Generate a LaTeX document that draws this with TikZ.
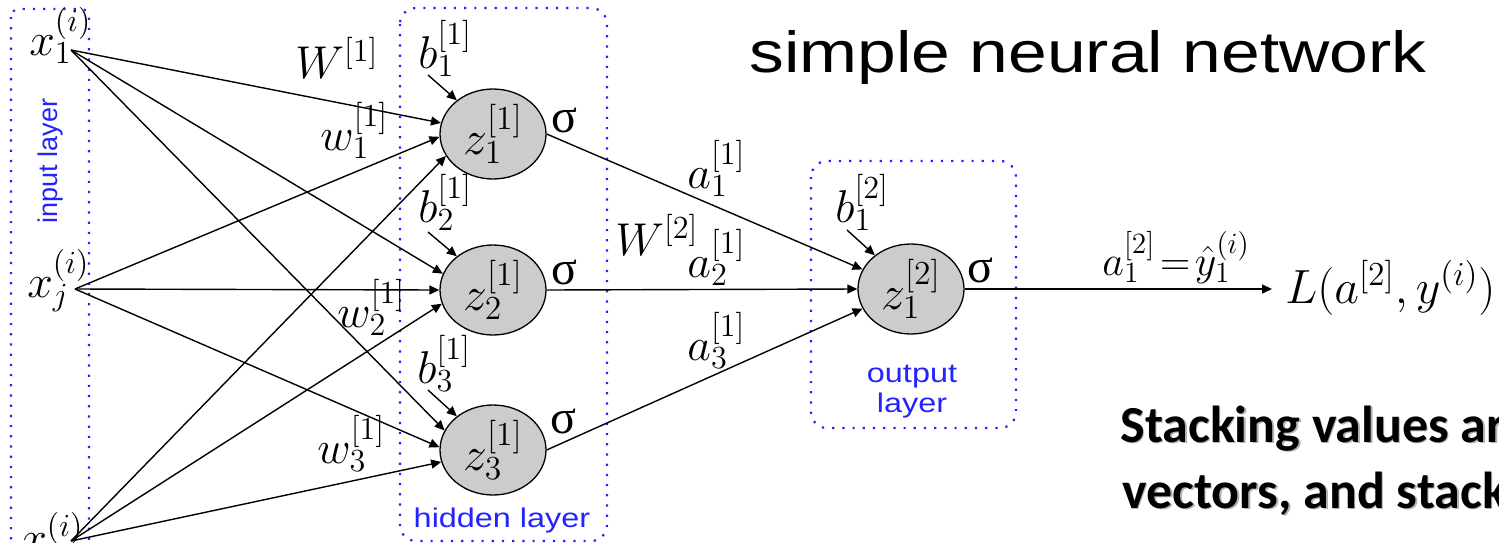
\RequirePackage{fix-cm}
\documentclass[tikz,border=0pt]{standalone}
\usepackage{fontspec}
\usepackage{graphicx}
\usetikzlibrary{shapes.geometric,arrows.meta}

\newfontfamily\arialfont{Liberation Sans}
\newfontfamily\capfont{Carlito}
\newfontfamily\sigfont{Liberation Serif}
\newcommand{\widen}[1]{\scalebox{1.2}[1]{#1}}

\definecolor{layerblue}{RGB}{35,35,255}

\tikzset{
  neuron/.style={ellipse, draw=black, line width=0.65pt, fill=black!20,
    minimum width=53pt, minimum height=45pt, inner sep=0pt,
    font=\fontsize{24}{28}\selectfont},
  layerbox/.style={draw=layerblue, line width=1.1pt,
    dash pattern=on 1.1pt off 4pt, rounded corners=8pt},
  layername/.style={text=layerblue, align=center, inner sep=0pt,
    font=\arialfont\fontsize{13.5}{15}\selectfont},
  lbl/.style={inner sep=0pt, font=\fontsize{23}{27}\selectfont},
  act/.style={inner sep=0pt, font=\sigfont\fontsize{24}{28}\selectfont},
  conn/.style={line width=0.7pt, -{Triangle[length=5pt,width=4.5pt]}},
  captxt/.style={anchor=base west, inner sep=0pt,
    font=\capfont\bfseries\fontsize{26}{31}\selectfont}
}

\begin{document}
\begin{tikzpicture}[x=0.5pt, y=-0.5pt]
\useasboundingbox (0,0) rectangle (1499,542);
\clip (0,0) rectangle (1499,542);

% layer frames
\draw[layerbox, rounded corners=4pt] (11,9) rectangle (89,600);
\draw[layerbox] (400,8) rectangle (607,541);
\draw[layerbox] (811,161) rectangle (1016,428);
\node[layername, rotate=90] (inname) at (51,161) {input layer};
\node[layername] (hidname) at (502,521) {\widen{hidden layer}};
\node[layername] (outname) at (912,392) {\widen{output}\\\widen{layer}};

% title
\node[anchor=base] (title) at (1088,72)
  {\arialfont\fontsize{29}{34}\selectfont\widen{simple neural network}};

% neurons
\node[neuron] (z1) at (493,134) {$z_1^{[1]}$};
\node[neuron] (z2) at (493,290) {$z_2^{[1]}$};
\node[neuron] (z3) at (493,450) {$z_3^{[1]}$};
\node[neuron] (o1) at (911,289) {$z_1^{[2]}$};

\node[act] (s1) at (564,120) {σ};
\node[act] (s2) at (564,272) {σ};
\node[act] (s3) at (563,421) {σ};
\node[act] (so) at (980,270) {σ};

% inputs
\coordinate (x1) at (71,50);
\coordinate (xj) at (75,289);
\coordinate (xn) at (71,541);
\node[lbl, anchor=base west] (x1lab) at (29,55) {$x_1^{(i)}$};
\node[lbl, anchor=base west] (xjlab) at (27,297) {$x_j^{(i)}$};
\node[lbl, anchor=base west] (xnlab) at (21,553) {$x_n^{(i)}$};

% weights and biases
\node[lbl, anchor=base west] (W1) at (295,78) {$W^{[1]}$};
\node[lbl, anchor=base west] (w1) at (320,150) {$w_1^{[1]}$};
\node[lbl, anchor=base west] (w2) at (337,327) {$w_2^{[1]}$};
\node[lbl, anchor=base west] (w3) at (317,463) {$w_3^{[1]}$};
\node[lbl, anchor=base west] (b1) at (418,68) {$b_1^{[1]}$};
\node[lbl, anchor=base west] (b2) at (418,222) {$b_2^{[1]}$};
\node[lbl, anchor=base west] (b3) at (417,383) {$b_3^{[1]}$};
\node[lbl, anchor=base west] (bo) at (835,222) {$b_1^{[2]}$};
\node[lbl, anchor=base west] (W2) at (615,255) {$W^{[2]}$};
\node[lbl, anchor=base west] (a1) at (687,188) {$a_1^{[1]}$};
\node[lbl, anchor=base west] (a2) at (687,277) {$a_2^{[1]}$};
\node[lbl, anchor=base west] (a3) at (687,360) {$a_3^{[1]}$};

\coordinate (b1t) at (428,75);
\coordinate (b2t) at (428,232);
\coordinate (b3t) at (428,390);
\coordinate (bot) at (847,230);

% input -> hidden
\draw[conn] (x1) -- (z1.168);
\draw[conn] (x1) -- (z2.162);
\draw[conn] (x1) -- (z3.158);
\draw[conn] (xj) -- (z1.183);
\draw[conn] (xj) -- (z2.180);
\draw[conn] (xj) -- (z3.177);
\draw[conn] (xn) -- (z1.205);
\draw[conn] (xn) -- (z2.195);
\draw[conn] (xn) -- (z3.193);

\draw[conn] (b1t) -- (z1.137);
\draw[conn] (b2t) -- (z2.137);
\draw[conn] (b3t) -- (z3.137);

% hidden -> output
\draw[conn] (z1.east) -- (o1.158);
\draw[conn] (z2.east) -- (o1.west);
\draw[conn] (z3.east) -- (o1.202);
\draw[conn] (bot) -- (o1.137);

% loss
\node[lbl, anchor=base west, font=\fontsize{24}{28}\selectfont] (loss) at (1285,303)
  {$L(a^{[2]},y^{(i)})$};
\node[lbl, anchor=base west, font=\fontsize{21}{25}\selectfont] (yhat) at (1102,275)
  {$a_1^{[2]}\!=\!\hat{y}_1^{(i)}$};
\draw[conn, shorten >=6.5pt] (o1.east) -- (o1.east -| loss.west);

% caption (with drop shadow)
\node[captxt, text=black!30] (cap1s) at (1121.5,443.5) {Stacking values are};
\node[captxt] (cap1) at (1120,442) {Stacking values are};
\node[captxt, text=black!30] (cap2s) at (1123.5,509.5) {vectors, and stacking};
\node[captxt] (cap2) at (1122,508) {vectors, and stacking};
\end{tikzpicture}
\end{document}
